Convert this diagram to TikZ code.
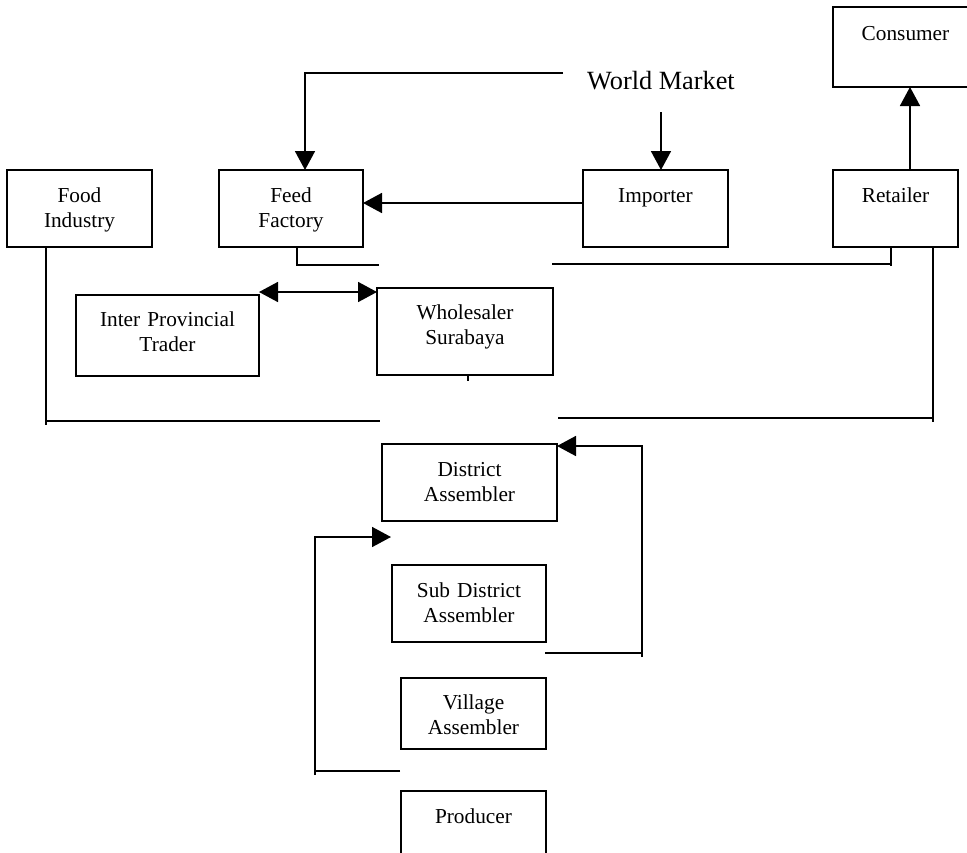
\documentclass[tikz,border=0pt]{standalone}
\usepackage{fontspec}
\setmainfont{Liberation Serif}
\usetikzlibrary{arrows.meta}
\begin{document}
\begin{tikzpicture}[x=1pt,y=-1pt,
  box/.style={draw, line width=1.7pt, rectangle, anchor=north west,
    inner sep=0pt, outer sep=0pt},
  lbl/.style={anchor=base, align=center, text width=180pt, inner sep=0pt,
    font=\fontsize{21.3}{25}\selectfont},
  wire/.style={line width=1.7pt},
  tip/.tip={Triangle[length=19pt,width=20pt]},
  arr/.style={wire, -tip},
  darr/.style={wire, tip-tip}]
\useasboundingbox (0,0) rectangle (967,852);
\clip (0,0) rectangle (967,852);

% boxes
\node[box, minimum width=145pt, minimum height=77pt] (food) at (7,170) {};
\node[box, minimum width=144pt, minimum height=77pt] (feed) at (219,170) {};
\node[box, minimum width=145pt, minimum height=77pt] (imp)  at (583,170) {};
\node[box, minimum width=125pt, minimum height=77pt] (ret)  at (833,170) {};
\node[box, minimum width=145pt, minimum height=80pt] (con)  at (833,7) {};
\node[box, minimum width=183pt, minimum height=81pt] (ipt)  at (76,295) {};
\node[box, minimum width=176pt, minimum height=87pt] (whs)  at (377,288) {};
\node[box, minimum width=175pt, minimum height=77pt] (dis)  at (382,444) {};
\node[box, minimum width=154pt, minimum height=77pt] (sub)  at (392,565) {};
\node[box, minimum width=145pt, minimum height=71pt] (vil)  at (401,678) {};
\node[box, minimum width=145pt, minimum height=80pt] (pro)  at (401,791) {};

% labels
\node[lbl] (foodt) at ([yshift=-32pt]food.north) {Food\\Industry};
\node[lbl] (feedt) at ([yshift=-32pt]feed.north) {Feed\\Factory};
\node[lbl] (impt)  at ([yshift=-32pt]imp.north)  {Importer};
\node[lbl] (rett)  at ([yshift=-32pt]ret.north)  {Retailer};
\node[lbl] (cont)  at ([yshift=-33pt]con.north)  {Consumer};
\node[lbl] (iptt)  at ([yshift=-31pt]ipt.north)  {Inter Provincial\\Trader};
\node[lbl] (whst)  at ([yshift=-31pt]whs.north)  {Wholesaler\\Surabaya};
\node[lbl] (dist)  at ([yshift=-32pt]dis.north)  {District\\Assembler};
\node[lbl] (subt)  at ([yshift=-32pt]sub.north)  {Sub District\\Assembler};
\node[lbl] (vilt)  at ([yshift=-31pt]vil.north)  {Village\\Assembler};
\node[lbl] (prot)  at ([yshift=-32pt]pro.north)  {Producer};
\node[anchor=base, inner sep=0pt, font=\fontsize{26.3}{30}\selectfont]
  (wm) at (661,89) {World Market};

% world market to feed factory and importer
\coordinate (wmL) at (563,73);
\coordinate (wmK) at (305,73);
\draw[arr] (wmL) -- (wmK) -- (wmK |- feed.north);
\coordinate (wmD) at (661,112);
\draw[arr] (wmD) -- (wmD |- imp.north);

% importer to feed factory
\coordinate (ly) at (0,203);
\draw[arr] (imp.west |- ly) -- (feed.east |- ly);

% retailer to consumer
\coordinate (rc) at (910,0);
\draw[arr] (ret.north -| rc) -- (con.south -| rc);

% feed factory / retailer trunk
\coordinate (fa) at (297,265);
\coordinate (fb) at (379,265);
\draw[wire] (feed.south -| fa) -- (fa) -- (fb);
\coordinate (ra) at (552,264);
\coordinate (rb) at (891,264);
\coordinate (rbt) at (891,266);
\draw[wire] (ra) -- (rb);
\draw[wire] (rbt) -- (ret.south -| rbt);

% inter provincial trader <-> wholesaler
\coordinate (dy) at (0,292);
\draw[darr] (ipt.east |- dy) -- (whs.west |- dy);
\coordinate (wt) at (468,381);
\draw[wire] (whs.south -| wt) -- (wt);

% food industry line
\coordinate (fi) at (46,421);
\coordinate (fib) at (46,425);
\coordinate (fie) at (380,421);
\draw[wire] (food.south -| fib) -- (fib);
\draw[wire] (fi) -- (fie);

% retailer line
\coordinate (rv) at (933,422);
\coordinate (rh) at (933,418);
\coordinate (rhe) at (558,418);
\draw[wire] (ret.south -| rv) -- (rv);
\draw[wire] (rh) -- (rhe);

% sub district to district assembler
\coordinate (sa) at (545,653);
\coordinate (sc) at (642,653);
\coordinate (sd) at (642,446);
\coordinate (se) at (642,657);
\draw[wire] (sa) -- (sc);
\draw[arr] (se) -- (sd) -- (dis.east |- sd);

% village loop upward
\coordinate (la) at (400,771);
\coordinate (lb) at (315,771);
\coordinate (lbo) at (315,775);
\coordinate (lc) at (315,537);
\coordinate (ld) at (391,537);
\draw[wire] (la) -- (lb);
\draw[arr] (lbo) -- (lc) -- (ld);
\end{tikzpicture}
\end{document}
